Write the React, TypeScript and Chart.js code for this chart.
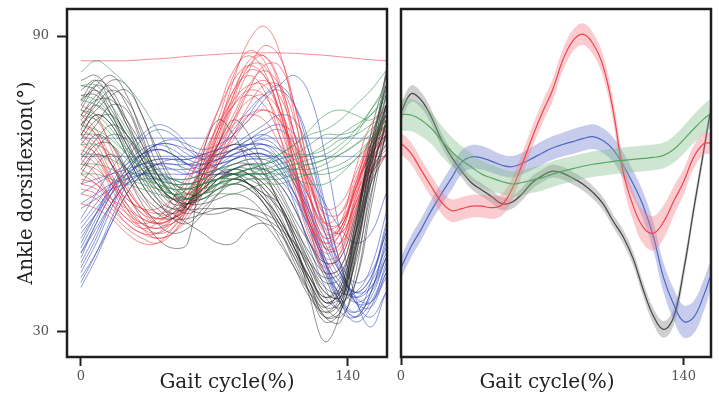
import React, { useEffect, useRef } from "react";
import { Chart, registerables } from "chart.js";
Chart.register(...registerables);

// ---------- Left panel: individual trials ----------
const X_L = [0, 8, 16, 24, 32, 40, 48, 56, 64, 72, 80, 88, 96, 104, 112, 120, 128, 136, 144, 152, 160];

const BLACK_TRIALS = [
  [76, 80, 78, 72, 65, 60, 57, 56, 58, 61, 62, 61, 59, 55, 49, 42, 36, 38, 50, 68, 80],
  [74, 78, 80, 76, 69, 62, 58, 57, 59, 62, 63, 62, 60, 56, 50, 43, 37, 35, 45, 63, 78],
  [79, 81, 76, 69, 63, 58, 55, 55, 58, 60, 61, 60, 57, 53, 47, 40, 34, 36, 48, 65, 76],
  [72, 75, 78, 79, 74, 66, 60, 57, 57, 59, 61, 60, 58, 55, 51, 46, 42, 43, 53, 66, 74],
  [70, 74, 72, 66, 60, 56, 54, 56, 60, 64, 67, 66, 62, 56, 48, 40, 33, 34, 46, 62, 72],
  [68, 72, 76, 75, 68, 61, 56, 54, 56, 60, 63, 63, 61, 57, 51, 44, 38, 37, 47, 60, 70],
  [78, 78, 74, 68, 62, 57, 53, 52, 55, 58, 60, 59, 56, 51, 45, 38, 32, 34, 45, 62, 82],
  [66, 70, 68, 62, 56, 52, 50, 51, 54, 58, 61, 60, 58, 56, 49, 37, 28, 34, 52, 66, 76],
  [62, 66, 64, 58, 53, 49, 47, 48, 66, 73, 70, 64, 58, 53, 47, 41, 36, 38, 50, 64, 74],
  [70, 74, 72, 66, 60, 56, 54, 52, 50, 48, 48, 51, 52, 50, 45, 40, 35, 36, 48, 62, 72],
  [64, 68, 68, 63, 58, 54, 53, 56, 62, 68, 73, 70, 63, 56, 49, 42, 36, 37, 49, 64, 76],
  [75, 80, 82, 78, 70, 62, 58, 59, 63, 66, 68, 67, 64, 59, 53, 48, 44, 45, 54, 67, 80],
  [73, 76, 73, 67, 61, 57, 55, 56, 59, 61, 62, 60, 57, 52, 46, 39, 33, 32, 42, 60, 76],
  [60, 64, 66, 63, 58, 55, 53, 53, 54, 55, 55, 54, 52, 48, 43, 38, 35, 39, 50, 62, 68],
  [80, 79, 74, 68, 63, 59, 57, 58, 60, 62, 62, 60, 56, 51, 44, 38, 33, 35, 47, 65, 83],
  [77, 81, 79, 73, 66, 60, 57, 56, 57, 59, 60, 59, 56, 52, 46, 41, 37, 39, 51, 66, 78],
  [71, 77, 81, 80, 74, 67, 61, 58, 58, 60, 62, 62, 60, 56, 50, 44, 39, 38, 47, 61, 73],
  [65, 69, 72, 70, 65, 60, 57, 57, 59, 62, 64, 64, 62, 58, 52, 45, 40, 41, 52, 65, 75],
  [77, 79, 75, 70, 66, 62, 58, 55, 54, 54, 55, 55, 54, 52, 48, 43, 38, 37, 44, 58, 70],
  [69, 73, 74, 70, 64, 59, 56, 56, 58, 61, 63, 64, 63, 60, 55, 48, 41, 36, 40, 55, 71],
  [74, 77, 77, 73, 68, 63, 60, 59, 60, 61, 61, 60, 57, 53, 47, 41, 37, 40, 52, 68, 79],
  [63, 67, 70, 69, 65, 60, 57, 55, 55, 55, 55, 54, 53, 51, 48, 44, 41, 42, 50, 60, 66],
  [81, 82, 78, 72, 67, 62, 58, 56, 56, 57, 58, 57, 54, 49, 43, 37, 34, 37, 50, 70, 82],
  [72, 76, 79, 77, 71, 64, 59, 57, 58, 61, 63, 62, 59, 54, 47, 40, 35, 33, 40, 57, 73],
];

const RED_TRIALS = [
  [70, 68, 62, 56, 52, 50, 51, 55, 62, 71, 81, 89, 92, 87, 74, 58, 47, 47, 57, 67, 72],
  [76, 74, 67, 60, 55, 52, 52, 55, 61, 69, 78, 85, 86, 80, 68, 55, 47, 48, 58, 68, 74],
  [66, 64, 59, 54, 51, 50, 52, 56, 62, 70, 78, 83, 82, 75, 63, 52, 45, 46, 55, 64, 70],
  [62, 60, 56, 52, 50, 50, 53, 58, 65, 72, 79, 82, 79, 70, 59, 49, 43, 46, 56, 64, 68],
  [72, 70, 64, 58, 54, 53, 54, 58, 64, 71, 76, 78, 76, 70, 61, 52, 47, 50, 59, 68, 73],
  [68, 66, 60, 55, 52, 51, 53, 57, 64, 73, 82, 87, 85, 77, 64, 53, 48, 50, 59, 67, 71],
  [58, 57, 54, 51, 49, 48, 50, 55, 62, 70, 76, 79, 78, 72, 62, 52, 46, 48, 57, 65, 69],
  [74, 71, 65, 59, 55, 53, 54, 57, 62, 68, 74, 80, 83, 80, 70, 58, 50, 51, 60, 70, 76],
  [64, 63, 60, 57, 55, 54, 55, 58, 63, 68, 72, 74, 73, 68, 60, 52, 48, 51, 58, 63, 66],
  [60, 59, 56, 53, 51, 52, 55, 60, 67, 75, 83, 86, 83, 74, 62, 51, 44, 45, 54, 62, 66],
  [70, 67, 61, 55, 51, 49, 50, 54, 60, 68, 77, 84, 86, 81, 70, 57, 49, 52, 63, 72, 75],
  [67, 65, 60, 56, 53, 52, 53, 56, 61, 67, 73, 77, 78, 75, 68, 60, 55, 56, 62, 69, 72],
  [56, 55, 53, 50, 48, 48, 51, 56, 63, 71, 79, 84, 84, 77, 64, 51, 42, 43, 53, 63, 67],
  [75, 73, 68, 62, 57, 54, 54, 56, 60, 65, 70, 74, 75, 73, 66, 57, 51, 52, 60, 69, 74],
  [65, 62, 57, 53, 52, 53, 57, 62, 68, 75, 81, 84, 82, 75, 64, 54, 49, 51, 59, 66, 70],
  [63, 61, 57, 54, 52, 51, 52, 55, 60, 66, 73, 79, 81, 78, 70, 60, 52, 52, 59, 66, 70],
  [73, 70, 64, 58, 54, 52, 53, 56, 61, 68, 76, 83, 88, 86, 76, 62, 51, 48, 55, 64, 71],
  [59, 58, 55, 52, 50, 49, 50, 53, 58, 64, 70, 76, 80, 80, 73, 61, 52, 50, 56, 62, 66],
  [69, 66, 61, 57, 55, 55, 57, 61, 66, 72, 77, 80, 80, 75, 66, 57, 52, 54, 61, 68, 72],
  [71, 69, 64, 59, 55, 53, 53, 55, 59, 65, 72, 79, 84, 84, 76, 63, 53, 50, 56, 65, 72],
  [61, 60, 57, 55, 53, 52, 53, 55, 59, 64, 69, 73, 75, 73, 67, 59, 54, 54, 60, 66, 69],
  [85, 85, 85, 85, 85.2, 85.4, 85.6, 85.9, 86.1, 86.3, 86.5, 86.6, 86.6, 86.6, 86.5, 86.3, 86.1, 85.8, 85.5, 85.2, 85],
];

const BLUE_TRIALS = [
  [42, 48, 55, 61, 65, 67, 66, 64, 64, 65, 67, 68, 69, 67, 62, 54, 44, 36, 32, 35, 44],
  [45, 52, 58, 62, 64, 64, 63, 62, 63, 65, 67, 69, 70, 68, 63, 55, 45, 37, 33, 38, 48],
  [48, 54, 60, 65, 69, 71, 70, 67, 65, 65, 66, 67, 67, 64, 58, 50, 42, 36, 34, 40, 52],
  [52, 56, 60, 62, 62, 61, 60, 60, 61, 63, 65, 67, 68, 66, 61, 53, 44, 37, 34, 37, 45],
  [40, 46, 53, 60, 65, 68, 69, 68, 67, 68, 70, 74, 78, 80, 76, 66, 53, 42, 36, 36, 42],
  [50, 54, 58, 61, 63, 64, 64, 64, 65, 67, 70, 73, 77, 80, 82, 78, 66, 50, 37, 31, 38],
  [55, 57, 59, 60, 61, 61, 61, 61, 62, 63, 64, 65, 65, 63, 58, 51, 44, 39, 37, 40, 47],
  [69.3, 69.3, 69.3, 69.3, 69.3, 69.3, 69.3, 69.3, 69.3, 69.3, 69.3, 69.3, 69.3, 69.3, 69.3, 69.3, 69.3, 69.3, 69.3, 69.3, 69.3],
  [65.6, 65.6, 65.6, 65.6, 65.6, 65.6, 65.6, 65.6, 65.6, 65.6, 65.6, 65.6, 65.6, 65.6, 65.6, 65.6, 65.6, 65.6, 65.6, 65.6, 65.6],
  [44, 50, 56, 60, 62, 62, 61, 60, 61, 63, 65, 66, 66, 64, 60, 54, 47, 41, 38, 41, 50],
  [58, 60, 62, 64, 66, 67, 66, 64, 63, 64, 66, 68, 70, 71, 68, 60, 50, 42, 38, 41, 51],
  [47, 53, 59, 64, 67, 68, 67, 65, 64, 64, 65, 66, 66, 63, 56, 47, 39, 34, 33, 38, 49],
  [46, 51, 56, 60, 62, 63, 63, 63, 64, 67, 71, 75, 78, 79, 76, 68, 56, 44, 36, 35, 42],
  [53, 58, 63, 67, 70, 72, 71, 68, 65, 63, 62, 62, 62, 60, 55, 48, 42, 38, 38, 43, 54],
  [41, 46, 52, 58, 62, 64, 64, 63, 62, 62, 63, 64, 64, 62, 58, 52, 45, 40, 37, 39, 46],
  [60, 61, 62, 63, 64, 65, 65, 65, 66, 67, 68, 68, 68, 67, 65, 61, 56, 51, 48, 50, 58],
  [43, 49, 56, 62, 66, 68, 68, 66, 65, 66, 67, 68, 68, 65, 60, 52, 43, 36, 33, 36, 43],
  [49, 54, 59, 62, 64, 65, 65, 64, 64, 65, 66, 67, 67, 65, 61, 55, 48, 42, 38, 39, 45],
  [51, 55, 59, 63, 66, 68, 68, 67, 66, 66, 67, 69, 71, 72, 70, 63, 53, 43, 37, 36, 41],
  [39, 45, 52, 58, 62, 64, 65, 65, 66, 67, 68, 70, 72, 74, 73, 66, 55, 44, 36, 33, 38],
  [56, 58, 60, 61, 62, 62, 62, 62, 63, 64, 65, 66, 66, 65, 62, 57, 50, 44, 40, 42, 50],
  [46, 52, 58, 63, 66, 67, 66, 64, 62, 62, 62, 63, 63, 61, 57, 51, 44, 39, 36, 38, 45],
];

const GREEN_TRIALS = [
  [82.7, 85, 83, 80, 76, 71, 66, 62, 61, 61, 62, 63, 64, 66, 68, 70, 71, 73, 76, 79, 83],
  [78, 77, 74, 70, 66, 63, 61, 60, 60, 61, 62, 62, 63, 63, 64, 64, 65, 67, 70, 75, 80],
  [72, 71, 69, 66, 63, 61, 59, 58, 58, 59, 60, 61, 61, 62, 63, 64, 65, 66, 68, 71, 74],
  [75, 74, 71, 67, 64, 61, 60, 60, 61, 63, 64, 65, 65, 66, 68, 71, 74, 75, 74, 73, 76],
  [68, 68, 66, 63, 61, 59, 58, 57, 58, 59, 61, 62, 62, 62, 61, 60, 60, 62, 65, 68, 72],
  [74, 73, 70, 66, 63, 60, 58, 57, 57, 58, 58, 59, 60, 60, 61, 62, 62, 63, 65, 69, 73],
  [66, 66, 65, 63, 61, 60, 59, 59, 60, 61, 62, 63, 64, 65, 66, 66, 67, 69, 70, 72, 74],
  [77, 76, 73, 68, 64, 62, 61, 61, 62, 63, 63, 64, 64, 65, 66, 68, 70, 70, 71, 74, 78],
  [62, 62, 61, 60, 59, 58, 57, 57, 58, 60, 61, 62, 62, 63, 63, 63, 64, 66, 68, 70, 73],
  [70, 70, 68, 65, 62, 60, 59, 59, 60, 61, 62, 63, 63, 64, 65, 66, 68, 70, 72, 74, 77],
  [80, 80, 76, 71, 66, 62, 60, 59, 59, 60, 61, 62, 62, 63, 64, 65, 66, 68, 71, 75, 79],
  [64, 64, 63, 61, 60, 59, 58, 58, 59, 60, 60, 61, 61, 61, 62, 62, 63, 64, 66, 69, 72],
];

// ---------- Right panel: group means and spread ----------
const X_R = [0, 5, 10, 15, 20, 25, 30, 35, 40, 45, 50, 55, 60, 65, 70, 75, 80, 85, 90, 95, 100, 105, 110, 115, 120, 125, 130, 135, 140, 145, 150, 153];

const BLACK_MEAN = [74.5, 78.3, 77.0, 73.6, 69.0, 65.5, 62.6, 60.2, 58.8, 57.4, 56.0, 56.3, 58.0, 60.3, 61.7, 62.6, 62.2, 61.2, 60.0, 58.3, 56.0, 52.5, 49.3, 44.8, 38.5, 33.2, 30.5, 33.0, 42.5, 55.0, 67.0, 74.3];
const BLACK_SD = [1.7, 1.7, 1.6, 1.5, 1.4, 1.4, 1.3, 1.3, 1.3, 1.3, 1.3, 1.3, 1.3, 1.3, 1.3, 1.3, 1.3, 1.3, 1.3, 1.3, 1.3, 1.3, 1.4, 1.4, 1.5, 1.6, 1.7, 1.7, 1.6, 1.5, 1.4, 1.4];

const RED_MEAN = [68.3, 66.2, 62.8, 59.5, 56.3, 54.6, 55.0, 55.5, 55.5, 55.2, 55.8, 59.0, 64.0, 69.5, 74.5, 79.0, 85.0, 89.0, 90.4, 88.5, 84.0, 75.0, 62.5, 55.5, 51.2, 50.0, 52.3, 56.5, 60.5, 65.5, 68.2, 68.3];
const RED_SD = [2.2, 2.2, 2.2, 2.2, 2.3, 2.3, 2.3, 2.3, 2.3, 2.3, 2.2, 2.2, 2.2, 2.2, 2.2, 2.2, 2.2, 2.2, 2.2, 2.2, 2.2, 2.3, 2.6, 3.0, 3.4, 3.5, 3.4, 3.0, 2.6, 2.3, 2.2, 2.2];

const BLUE_MEAN = [43.0, 47.3, 50.8, 54.6, 58.0, 61.2, 64.4, 65.5, 65.3, 64.6, 63.8, 63.5, 64.2, 65.2, 66.3, 67.3, 68.0, 68.6, 69.2, 69.6, 68.8, 67.0, 63.8, 60.0, 55.5, 49.3, 41.0, 35.6, 32.1, 33.0, 37.5, 41.1];
const BLUE_SD = [2.2, 2.2, 2.2, 2.2, 2.3, 2.4, 2.4, 2.4, 2.4, 2.3, 2.2, 2.2, 2.2, 2.3, 2.4, 2.4, 2.4, 2.5, 2.5, 2.5, 2.5, 2.5, 2.6, 2.7, 2.8, 2.9, 3.0, 3.2, 3.3, 3.3, 3.2, 3.0];

const GREEN_MEAN = [74.1, 74.0, 73.0, 71.3, 68.8, 66.6, 64.8, 63.4, 62.0, 61.2, 60.5, 60.0, 60.3, 60.8, 61.3, 62.0, 62.6, 63.1, 63.6, 64.0, 64.3, 64.6, 64.8, 65.0, 65.2, 65.4, 65.8, 67.0, 69.0, 71.2, 73.2, 74.2];
const GREEN_SD = [3.3, 3.3, 3.3, 3.2, 3.1, 3.0, 2.9, 2.8, 2.7, 2.7, 2.6, 2.6, 2.6, 2.6, 2.6, 2.6, 2.6, 2.6, 2.6, 2.6, 2.6, 2.6, 2.6, 2.6, 2.6, 2.6, 2.6, 2.7, 2.8, 2.9, 3.0, 3.0];

const Y_TICKS = [30, 90];
const X_TICKS = [0, 140];
const Y_TITLE = "Ankle dorsiflexion(°)";
const X_TITLE = "Gait cycle(%)";

const SERIF = '"DejaVu Serif", serif';

function framePlugin(titleX: number) {
  return {
    id: "frameAndTitle",
    afterDatasetsDraw(chart: any) {
      const { ctx, chartArea: a } = chart;
      ctx.save();
      ctx.strokeStyle = "#1e1e1e";
      ctx.lineWidth = 2.5;
      ctx.strokeRect(a.left, a.top, a.right - a.left, a.bottom - a.top);
      ctx.restore();
    },
    afterDraw(chart: any) {
      const { ctx } = chart;
      ctx.save();
      ctx.font = `20px ${SERIF}`;
      ctx.fillStyle = "#222";
      ctx.textAlign = "center";
      ctx.textBaseline = "middle";
      ctx.fillText(X_TITLE, titleX, 383);
      ctx.restore();
    },
  };
}

function lineDs(xs: number[], ys: number[], color: string, width = 1) {
  return {
    data: xs.map((x, i) => ({ x, y: ys[i] })),
    borderColor: color,
    borderWidth: width,
    pointRadius: 0,
    tension: 0.4,
    fill: false,
  };
}

function bandDs(mean: number[], sd: number[], fillColor: string, lineColor: string) {
  const upper = {
    data: X_R.map((x, i) => ({ x, y: mean[i] + sd[i] })),
    borderWidth: 0,
    borderColor: "rgba(0,0,0,0)",
    pointRadius: 0,
    tension: 0.4,
    fill: false,
  };
  const lower = {
    data: X_R.map((x, i) => ({ x, y: mean[i] - sd[i] })),
    borderWidth: 0,
    borderColor: "rgba(0,0,0,0)",
    backgroundColor: fillColor,
    pointRadius: 0,
    tension: 0.4,
    fill: "-1",
  };
  return [upper, lower, lineDs(X_R, mean, lineColor, 1.2)];
}

const tickFont = { family: SERIF, size: 13 };

const noPadX = (h: number) => (s: any) => {
  s.height = h;
  s.paddingLeft = 0;
  s.paddingRight = 0;
};
const noPadY = (w: number) => (s: any) => {
  s.width = w;
  s.paddingTop = 0;
  s.paddingBottom = 0;
};

export default function App() {
  const leftRef = useRef<HTMLCanvasElement>(null);
  const rightRef = useRef<HTMLCanvasElement>(null);

  useEffect(() => {
    const datasetsL: any[] = [];
    GREEN_TRIALS.forEach((t) => datasetsL.push(lineDs(X_L, t, "rgba(40,140,70,0.55)")));
    BLACK_TRIALS.forEach((t) => datasetsL.push(lineDs(X_L, t, "rgba(35,35,35,0.5)")));
    RED_TRIALS.forEach((t) => datasetsL.push(lineDs(X_L, t, "rgba(236,50,60,0.55)")));
    BLUE_TRIALS.forEach((t) => datasetsL.push(lineDs(X_L, t, "rgba(45,70,185,0.55)")));

    const left = new Chart(leftRef.current!, {
      type: "line",
      data: { datasets: datasetsL },
      options: {
        animation: false,
        responsive: false,
        events: [],
        layout: { padding: { left: 0, right: 8, top: 9, bottom: 0 } },
        plugins: { legend: { display: false }, tooltip: { enabled: false } },
        scales: {
          x: {
            type: "linear",
            min: -7.3,
            max: 160.5,
            afterBuildTicks: (s: any) => { s.ticks = X_TICKS.map((v) => ({ value: v })); },
            afterFit: noPadX(41),
            grid: { drawOnChartArea: false, drawTicks: true, tickLength: 9, tickWidth: 2, tickColor: "#222" },
            border: { display: false },
            ticks: { font: tickFont, color: "#555", padding: 3, maxRotation: 0 },
          },
          y: {
            min: 24.9,
            max: 95.5,
            afterBuildTicks: (s: any) => { s.ticks = Y_TICKS.map((v) => ({ value: v })); },
            afterFit: noPadY(67),
            grid: { drawOnChartArea: false, drawTicks: true, tickLength: 10, tickWidth: 2, tickColor: "#222" },
            border: { display: false },
            ticks: { font: tickFont, color: "#555", padding: 8 },
            title: {
              display: true,
              text: Y_TITLE,
              font: { family: SERIF, size: 19.5 },
              color: "#222",
              padding: { top: 15, bottom: 0 },
            },
          },
        },
      },
      plugins: [framePlugin(227)],
    } as any);

    const datasetsR: any[] = [
      ...bandDs(GREEN_MEAN, GREEN_SD, "rgba(125,190,135,0.38)", "#3f9a4c"),
      ...bandDs(RED_MEAN, RED_SD, "rgba(245,120,128,0.38)", "#e8262f"),
      ...bandDs(BLUE_MEAN, BLUE_SD, "rgba(110,122,205,0.38)", "#3a5cba"),
      ...bandDs(BLACK_MEAN, BLACK_SD, "rgba(130,130,130,0.38)", "#1e1e1e"),
    ];

    const right = new Chart(rightRef.current!, {
      type: "line",
      data: { datasets: datasetsR },
      options: {
        animation: false,
        responsive: false,
        events: [],
        layout: { padding: { left: 0, right: 8, top: 9, bottom: 0 } },
        plugins: { legend: { display: false }, tooltip: { enabled: false } },
        scales: {
          x: {
            type: "linear",
            min: 0,
            max: 153.5,
            afterBuildTicks: (s: any) => { s.ticks = X_TICKS.map((v) => ({ value: v })); },
            afterFit: noPadX(41),
            grid: { drawOnChartArea: false, drawTicks: true, tickLength: 8, tickWidth: 2, tickColor: "#222" },
            border: { display: false },
            ticks: { font: tickFont, color: "#555", padding: 4, maxRotation: 0 },
          },
          y: {
            min: 24.9,
            max: 95.5,
            afterBuildTicks: (s: any) => { s.ticks = []; },
            afterFit: noPadY(6),
            grid: { drawOnChartArea: false, drawTicks: false },
            border: { display: false },
            ticks: { display: false },
          },
        },
      },
      plugins: [framePlugin(152)],
    } as any);

    return () => {
      left.destroy();
      right.destroy();
    };
  }, []);

  return (
    <div style={{ position: "absolute", left: 0, top: 0, width: 719, height: 398, background: "#fff", overflow: "hidden" }}>
      <canvas ref={leftRef} width={395} height={398} style={{ position: "absolute", left: 0, top: 0 }} />
      <canvas ref={rightRef} width={324} height={398} style={{ position: "absolute", left: 395, top: 0 }} />
    </div>
  );
}
